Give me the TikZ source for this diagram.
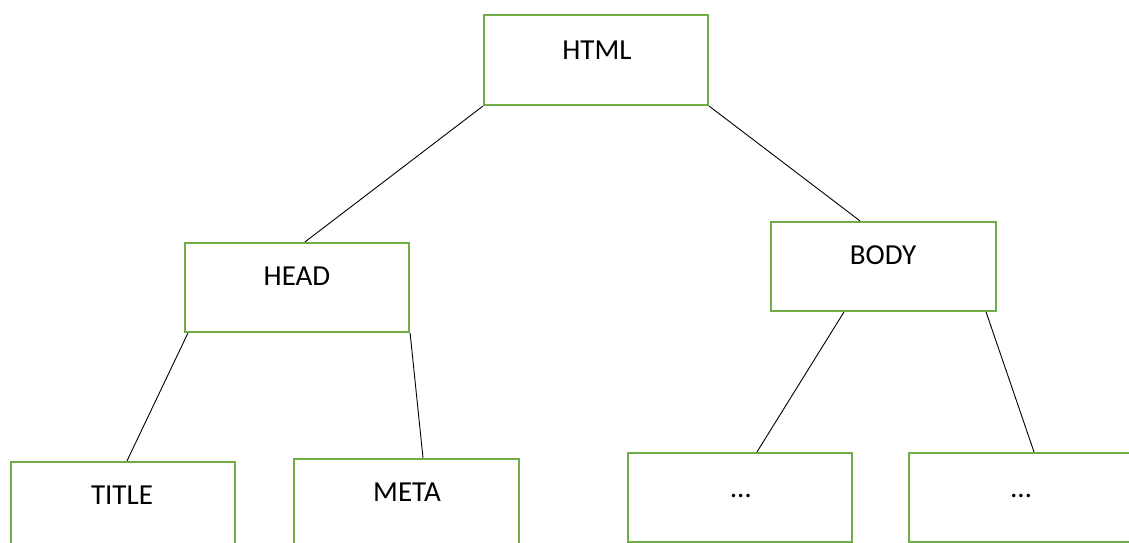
\documentclass[tikz,border=0pt]{standalone}
\usepackage{fontspec}
\setmainfont{Carlito}
\definecolor{boxgreen}{RGB}{112,173,71}
\begin{document}
\begin{tikzpicture}[x=1pt,y=-1pt,
  box/.style={draw=boxgreen,line width=2.2pt,minimum width=224pt,minimum height=89pt,inner sep=0pt,fill=white},
  lbl/.style={anchor=base,inner sep=0pt,font=\fontsize{29}{34}\selectfont},
  link/.style={draw=black,line width=0.9pt}]
\useasboundingbox (0,0) rectangle (1129,543);
\clip (0,0) rectangle (1129,543);
\fill[white] (0,0) rectangle (1129,543);
% boxes
\node[box,minimum height=90pt] (html) at (596,60) {};
\node[box] (head) at (297,287.5) {};
\node[box,minimum width=225pt] (body) at (883.5,266.5) {};
\node[box,minimum height=90pt] (title) at (123,507) {};
\node[box,minimum width=225pt,minimum height=90pt] (meta) at (406.5,504) {};
\node[box] (d1) at (740,497.5) {};
\node[box] (d2) at (1021,497.5) {};
% labels
\node[lbl] (htmlt) at (597,59.3) {HTML};
\node[lbl] (headt) at (297,285) {HEAD};
\node[lbl] (bodyt) at (883,264) {BODY};
\node[lbl] (titlet) at (122,504) {TITLE};
\node[lbl] (metat) at (407,501.7) {META};
\node[lbl] (d1t) at (741,497) {…};
\node[lbl] (d2t) at (1021,497) {…};
% connectors
\draw[link] (html.south west) -- ([xshift=8pt]head.north);
\draw[link] (html.south east) -- ([xshift=-23.5pt]body.north);
\draw[link] ([xshift=4pt]head.south west) -- ([xshift=4pt]title.north);
\draw[link] (head.south east) -- ([xshift=16.5pt]meta.north);
\draw[link] ([xshift=74pt]body.south west) -- ([xshift=17pt]d1.north);
\draw[link] ([xshift=-11pt]body.south east) -- ([xshift=13pt]d2.north);
\end{tikzpicture}
\end{document}
